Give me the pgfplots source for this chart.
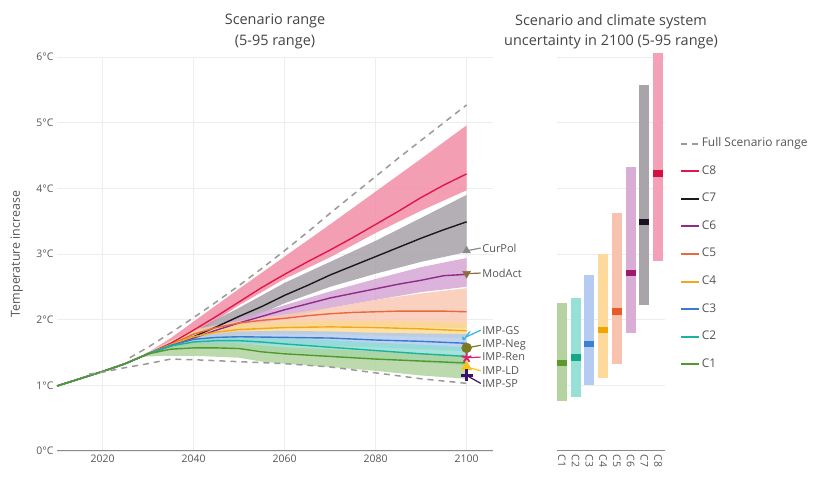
\documentclass[border=0pt]{standalone}
\usepackage{pgfplots}
\pgfplotsset{compat=1.18}
\usepackage{fontspec}
\setmainfont{Open Sans}
\newfontfamily\dejavu{DejaVu Sans}

\definecolor{titlec}{HTML}{444444}
\definecolor{tickc}{HTML}{555555}
\definecolor{axisc}{HTML}{8A8A8A}
\definecolor{gridc}{HTML}{EDEDED}
\definecolor{dashc}{HTML}{999999}
\definecolor{l8}{HTML}{E0174A}\definecolor{f8}{HTML}{F28DA6}
\definecolor{l7}{HTML}{1A1A1A}\definecolor{f7}{HTML}{A7A1A8}
\definecolor{l6}{HTML}{8E2C8B}\definecolor{f6}{HTML}{D6A6D3}
\definecolor{l5}{HTML}{E8683F}\definecolor{f5}{HTML}{F9C9B3}
\definecolor{l4}{HTML}{F3A81C}\definecolor{f4}{HTML}{FCD98E}
\definecolor{l3}{HTML}{3D7ACD}\definecolor{f3}{HTML}{AFC8F0}
\definecolor{l2}{HTML}{1BB39E}\definecolor{f2}{HTML}{8EDDD2}
\definecolor{l1}{HTML}{4E9A2C}\definecolor{f1}{HTML}{ADD19A}
\definecolor{b1}{HTML}{B5D3A0}\definecolor{m1}{HTML}{5C9A2E}
\definecolor{b2}{HTML}{96E0D6}\definecolor{m2}{HTML}{12A98A}
\definecolor{b3}{HTML}{B6CBF2}\definecolor{m3}{HTML}{3C7FD6}
\definecolor{b4}{HTML}{FDDA9C}\definecolor{m4}{HTML}{F0A500}
\definecolor{b5}{HTML}{F7C3AE}\definecolor{m5}{HTML}{E85A2A}
\definecolor{b6}{HTML}{D9ADD6}\definecolor{m6}{HTML}{A0186C}
\definecolor{b7}{HTML}{A9A3AA}\definecolor{m7}{HTML}{1C1020}
\definecolor{b8}{HTML}{F4A0B6}\definecolor{m8}{HTML}{D4103E}
\definecolor{cpol}{HTML}{8A8A8A}
\definecolor{mact}{HTML}{8C6D3F}
\definecolor{igs}{HTML}{29B6E8}
\definecolor{ineg}{HTML}{7A7A1E}
\definecolor{iren}{HTML}{D6246E}
\definecolor{ild}{HTML}{F7C41B}
\definecolor{isp}{HTML}{3A1068}

\begin{document}
\begin{tikzpicture}[x=1bp,y=1bp]
\useasboundingbox (0,0) rectangle (817,477);
\node[align=center, font=\fontsize{14.5}{21}\selectfont, text=titlec] at (275,446) {Scenario range\\(5-95 range)};
\node[align=center, font=\fontsize{14.5}{20}\selectfont, text=titlec] at (611,445) {Scenario and climate system\\uncertainty in 2100 (5-95 range)};

\begin{axis}[at={(57bp,26bp)}, anchor=south west, scale only axis,
  width=436bp, height=394bp, xmin=2010, xmax=2105.8, ymin=0, ymax=6,
  clip=false, axis lines*=left, y axis line style={draw=none},
  x axis line style={draw=axisc, line width=1bp},
  xtick={2020,2040,2060,2080,2100}, xticklabels={2020,2040,2060,2080,2100},
  ytick={0,1,2,3,4,5,6}, yticklabels={0°C,1°C,2°C,3°C,4°C,5°C,6°C},
  major tick length=0, grid=major, major grid style={gridc, line width=0.6bp},
  tick label style={font=\fontsize{10.5}{12}\selectfont, text=tickc},
  ylabel={Temperature increase},
  ylabel style={at={(axis description cs:-0.092,0.5)}, anchor=center, font=\fontsize{12.5}{14}\selectfont, text=tickc}]

% bands
\addplot[fill=f8, draw=none, fill opacity=0.85] coordinates {(2028,1.42)(2030,1.5)(2035,1.72)(2040,1.97)(2050,2.47)(2060,2.96)(2070,3.45)(2080,3.95)(2090,4.45)(2100,4.96)(2100,3.97)(2090,3.66)(2080,3.32)(2070,2.95)(2060,2.62)(2050,2.22)(2040,1.76)(2035,1.58)(2030,1.46)(2028,1.42)} -- cycle;
\addplot[fill=f7, draw=none, fill opacity=0.85] coordinates {(2028,1.42)(2030,1.49)(2035,1.66)(2040,1.82)(2050,2.18)(2060,2.56)(2070,2.88)(2080,3.2)(2090,3.55)(2100,3.9)(2100,3.03)(2090,2.88)(2080,2.7)(2070,2.5)(2060,2.25)(2050,1.95)(2040,1.66)(2035,1.56)(2030,1.46)(2028,1.42)} -- cycle;
\addplot[fill=f6, draw=none, fill opacity=0.85] coordinates {(2028,1.42)(2030,1.49)(2035,1.64)(2040,1.78)(2050,2.02)(2060,2.22)(2070,2.43)(2080,2.62)(2090,2.8)(2100,2.94)(2100,2.5)(2090,2.42)(2080,2.3)(2070,2.18)(2060,2.02)(2050,1.86)(2040,1.66)(2035,1.56)(2030,1.46)(2028,1.42)} -- cycle;
\addplot[fill=f5, draw=none, fill opacity=0.85] coordinates {(2028,1.42)(2030,1.5)(2035,1.68)(2040,1.85)(2050,1.98)(2060,2.08)(2070,2.18)(2080,2.3)(2090,2.4)(2100,2.48)(2100,1.87)(2090,1.88)(2080,1.9)(2070,1.9)(2060,1.87)(2050,1.82)(2040,1.7)(2035,1.58)(2030,1.46)(2028,1.42)} -- cycle;
\addplot[fill=f4, draw=none, fill opacity=0.8] coordinates {(2028,1.42)(2030,1.5)(2035,1.67)(2040,1.82)(2050,1.93)(2060,1.97)(2070,1.98)(2080,1.98)(2090,1.97)(2100,1.95)(2100,1.72)(2090,1.74)(2080,1.76)(2070,1.78)(2060,1.78)(2050,1.76)(2040,1.68)(2035,1.57)(2030,1.46)(2028,1.42)} -- cycle;
\addplot[fill=f3, draw=none, fill opacity=0.8] coordinates {(2028,1.42)(2030,1.5)(2035,1.65)(2040,1.76)(2050,1.82)(2060,1.83)(2070,1.82)(2080,1.8)(2090,1.79)(2100,1.78)(2100,1.52)(2090,1.55)(2080,1.58)(2070,1.6)(2060,1.62)(2050,1.64)(2040,1.63)(2035,1.56)(2030,1.46)(2028,1.42)} -- cycle;
\addplot[fill=f2, draw=none, fill opacity=0.8] coordinates {(2028,1.42)(2030,1.5)(2035,1.64)(2040,1.72)(2050,1.75)(2060,1.72)(2070,1.69)(2080,1.65)(2090,1.62)(2100,1.58)(2100,1.3)(2090,1.35)(2080,1.4)(2070,1.45)(2060,1.5)(2050,1.56)(2040,1.59)(2035,1.55)(2030,1.46)(2028,1.42)} -- cycle;
\addplot[fill=f1, draw=none, fill opacity=0.8] coordinates {(2028,1.42)(2030,1.5)(2035,1.6)(2040,1.65)(2050,1.64)(2060,1.58)(2070,1.55)(2080,1.52)(2090,1.49)(2100,1.46)(2100,1.1)(2090,1.15)(2080,1.22)(2070,1.28)(2060,1.33)(2055,1.36)(2050,1.42)(2040,1.45)(2035,1.45)(2030,1.44)(2028,1.42)} -- cycle;

% medians
\addplot[l8, line width=1.4bp] coordinates {(2010,0.99)(2015,1.1)(2020,1.21)(2025,1.33)(2030,1.48)(2035,1.64)(2040,1.84)(2045,2.05)(2050,2.27)(2055,2.49)(2060,2.69)(2065,2.88)(2070,3.06)(2075,3.25)(2080,3.45)(2085,3.65)(2090,3.86)(2095,4.05)(2100,4.22)};
\addplot[l7, line width=1.4bp] coordinates {(2010,0.99)(2015,1.1)(2020,1.21)(2025,1.33)(2030,1.48)(2035,1.61)(2040,1.74)(2045,1.89)(2050,2.05)(2055,2.2)(2060,2.37)(2065,2.52)(2070,2.68)(2075,2.82)(2080,2.96)(2085,3.1)(2090,3.24)(2095,3.37)(2100,3.49)};
\addplot[l6, line width=1.4bp] coordinates {(2010,0.99)(2015,1.1)(2020,1.21)(2025,1.33)(2030,1.48)(2035,1.6)(2040,1.72)(2045,1.84)(2050,1.95)(2055,2.05)(2060,2.15)(2065,2.24)(2070,2.33)(2075,2.4)(2080,2.47)(2085,2.54)(2090,2.6)(2095,2.67)(2100,2.69)};
\addplot[l5, line width=1.4bp] coordinates {(2010,0.99)(2015,1.1)(2020,1.21)(2025,1.33)(2030,1.48)(2035,1.62)(2040,1.78)(2045,1.88)(2050,1.95)(2055,1.99)(2060,2.02)(2065,2.06)(2070,2.09)(2075,2.11)(2080,2.12)(2085,2.13)(2090,2.13)(2095,2.13)(2100,2.12)};
\addplot[l4, line width=1.4bp] coordinates {(2010,0.99)(2015,1.1)(2020,1.21)(2025,1.33)(2030,1.48)(2035,1.62)(2040,1.74)(2045,1.81)(2050,1.85)(2060,1.88)(2070,1.89)(2080,1.88)(2090,1.86)(2100,1.83)};
\addplot[l3, line width=1.4bp] coordinates {(2010,0.99)(2015,1.1)(2020,1.21)(2025,1.33)(2030,1.48)(2035,1.61)(2040,1.7)(2045,1.73)(2050,1.74)(2060,1.73)(2070,1.72)(2080,1.69)(2090,1.67)(2100,1.64)};
\addplot[l2, line width=1.4bp] coordinates {(2010,0.99)(2015,1.1)(2020,1.21)(2025,1.33)(2030,1.48)(2035,1.6)(2040,1.66)(2045,1.68)(2050,1.68)(2055,1.66)(2060,1.63)(2070,1.58)(2080,1.53)(2090,1.48)(2100,1.44)};
\addplot[l1, line width=1.4bp] coordinates {(2010,0.99)(2015,1.1)(2020,1.21)(2025,1.33)(2030,1.48)(2035,1.55)(2040,1.57)(2045,1.57)(2050,1.56)(2055,1.51)(2060,1.48)(2065,1.46)(2070,1.44)(2080,1.4)(2090,1.37)(2100,1.34)};

% full scenario range
\addplot[dashc, line width=1.5bp, dash pattern=on 6bp off 5bp] coordinates {(2026,1.42)(2030,1.58)(2035,1.8)(2040,2.03)(2045,2.27)(2050,2.52)(2055,2.78)(2060,3.05)(2065,3.33)(2070,3.62)(2075,3.9)(2080,4.18)(2085,4.46)(2090,4.73)(2095,5.0)(2100,5.27)};
\addplot[dashc, line width=1.5bp, dash pattern=on 6bp off 5bp] coordinates {(2017,1.17)(2020,1.2)(2025,1.27)(2030,1.33)(2035,1.4)(2040,1.39)(2050,1.36)(2060,1.33)(2070,1.28)(2080,1.19)(2090,1.1)(2100,1.03)};

% illustrative pathways at 2100
\addplot[cpol, line width=1.2bp] coordinates {(2100,3.05)(2103.1,3.09)};
\addplot[cpol, only marks, mark=triangle*, mark size=4.5bp] coordinates {(2100,3.05)};
\addplot[mact, line width=1.2bp] coordinates {(2100,2.7)(2103.1,2.71)};
\addplot[mact, only marks, mark=triangle*, mark options={rotate=180}, mark size=4.5bp] coordinates {(2100,2.7)};
\addplot[igs, line width=1.2bp] coordinates {(2100,1.74)(2103.1,1.84)};
\addplot[igs, only marks, mark=text, text mark={\color{igs}\fontsize{17}{17}\selectfont\dejavu\bfseries ✓}] coordinates {(2100,1.74)};
\addplot[ineg, line width=1.2bp] coordinates {(2100,1.57)(2103.1,1.61)};
\addplot[ineg, only marks, mark=*, mark size=5bp] coordinates {(2100,1.57)};
\addplot[iren, line width=1.2bp] coordinates {(2100,1.42)(2103.1,1.43)};
\addplot[iren, only marks, mark=star, mark size=5bp, mark options={line width=1.8bp}] coordinates {(2100,1.42)};
\addplot[ild, line width=1.2bp] coordinates {(2100,1.28)(2103.1,1.22)};
\addplot[ild, only marks, mark=triangle*, mark size=6bp] coordinates {(2100,1.28)};
\addplot[isp, line width=1.2bp] coordinates {(2100,1.15)(2103.1,1.03)};
\addplot[isp, only marks, mark=+, mark size=6bp, mark options={line width=2.6bp}] coordinates {(2100,1.15)};

\begin{scope}[every node/.style={anchor=west, inner sep=1bp, font=\fontsize{11}{12}\selectfont, text=tickc}]
\node at (axis cs:2103.2,3.09) {CurPol};
\node at (axis cs:2103.2,2.71) {ModAct};
\node at (axis cs:2103.2,1.84) {IMP-GS};
\node at (axis cs:2103.2,1.61) {IMP-Neg};
\node at (axis cs:2103.2,1.43) {IMP-Ren};
\node at (axis cs:2103.2,1.22) {IMP-LD};
\node at (axis cs:2103.2,1.03) {IMP-SP};
\end{scope}
\end{axis}

\begin{axis}[at={(557bp,26bp)}, anchor=south west, scale only axis,
  width=108bp, height=394bp, xmin=0.64, xmax=8.5, ymin=0, ymax=6,
  clip=false, axis lines*=left, y axis line style={draw=none},
  x axis line style={draw=axisc, line width=1bp},
  xtick={1,2,3,4,5,6,7,8}, xticklabels={C1,C2,C3,C4,C5,C6,C7,C8},
  x tick label style={rotate=-90, anchor=west, font=\fontsize{10.5}{12}\selectfont, text=tickc},
  ytick={1,2,3,4,5,6}, yticklabels={},
  ymajorgrids, major grid style={gridc, line width=0.6bp}, major tick length=0,
  legend style={draw=none, fill=none, at={(axis description cs:1.112,0.805)}, anchor=north west,
    font=\fontsize{12}{12}\selectfont, text=tickc, row sep=12.6bp,
    nodes={inner sep=1.5bp, text height=9bp, text depth=3bp}},
  legend cell align=left,
  legend image code/.code={\draw[#1] (0bp,0bp) -- (18bp,0bp);}]

\addplot[fill=b1, draw=none, forget plot] coordinates {(0.64,0.76)(1.36,0.76)(1.36,2.25)(0.64,2.25)} -- cycle;
\addplot[fill=b2, draw=none, forget plot] coordinates {(1.64,0.82)(2.36,0.82)(2.36,2.33)(1.64,2.33)} -- cycle;
\addplot[fill=b3, draw=none, forget plot] coordinates {(2.64,1.0)(3.36,1.0)(3.36,2.68)(2.64,2.68)} -- cycle;
\addplot[fill=b4, draw=none, forget plot] coordinates {(3.64,1.11)(4.36,1.11)(4.36,3.0)(3.64,3.0)} -- cycle;
\addplot[fill=b5, draw=none, forget plot] coordinates {(4.64,1.32)(5.36,1.32)(5.36,3.62)(4.64,3.62)} -- cycle;
\addplot[fill=b6, draw=none, forget plot] coordinates {(5.64,1.80)(6.36,1.80)(6.36,4.32)(5.64,4.32)} -- cycle;
\addplot[fill=b7, draw=none, forget plot] coordinates {(6.64,2.22)(7.36,2.22)(7.36,5.58)(6.64,5.58)} -- cycle;
\addplot[fill=b8, draw=none, forget plot] coordinates {(7.64,2.89)(8.36,2.89)(8.36,6.06)(7.64,6.06)} -- cycle;

\addplot[fill=m1, draw=none, forget plot] coordinates {(0.64,1.29)(1.36,1.29)(1.36,1.39)(0.64,1.39)} -- cycle;
\addplot[fill=m2, draw=none, forget plot] coordinates {(1.64,1.37)(2.36,1.37)(2.36,1.47)(1.64,1.47)} -- cycle;
\addplot[fill=m3, draw=none, forget plot] coordinates {(2.64,1.58)(3.36,1.58)(3.36,1.68)(2.64,1.68)} -- cycle;
\addplot[fill=m4, draw=none, forget plot] coordinates {(3.64,1.79)(4.36,1.79)(4.36,1.89)(3.64,1.89)} -- cycle;
\addplot[fill=m5, draw=none, forget plot] coordinates {(4.64,2.07)(5.36,2.07)(5.36,2.17)(4.64,2.17)} -- cycle;
\addplot[fill=m6, draw=none, forget plot] coordinates {(5.64,2.66)(6.36,2.66)(6.36,2.76)(5.64,2.76)} -- cycle;
\addplot[fill=m7, draw=none, forget plot] coordinates {(6.64,3.44)(7.36,3.44)(7.36,3.54)(6.64,3.54)} -- cycle;
\addplot[fill=m8, draw=none, forget plot] coordinates {(7.64,4.18)(8.36,4.18)(8.36,4.28)(7.64,4.28)} -- cycle;

\addlegendimage{dashc, line width=2bp, dash pattern=on 6bp off 5bp}
\addlegendentry{Full Scenario range}
\addlegendimage{l8, line width=2bp}\addlegendentry{C8}
\addlegendimage{l7, line width=2bp}\addlegendentry{C7}
\addlegendimage{l6, line width=2bp}\addlegendentry{C6}
\addlegendimage{l5, line width=2bp}\addlegendentry{C5}
\addlegendimage{l4, line width=2bp}\addlegendentry{C4}
\addlegendimage{l3, line width=2bp}\addlegendentry{C3}
\addlegendimage{l2, line width=2bp}\addlegendentry{C2}
\addlegendimage{l1, line width=2bp}\addlegendentry{C1}
\end{axis}
\end{tikzpicture}
\end{document}
